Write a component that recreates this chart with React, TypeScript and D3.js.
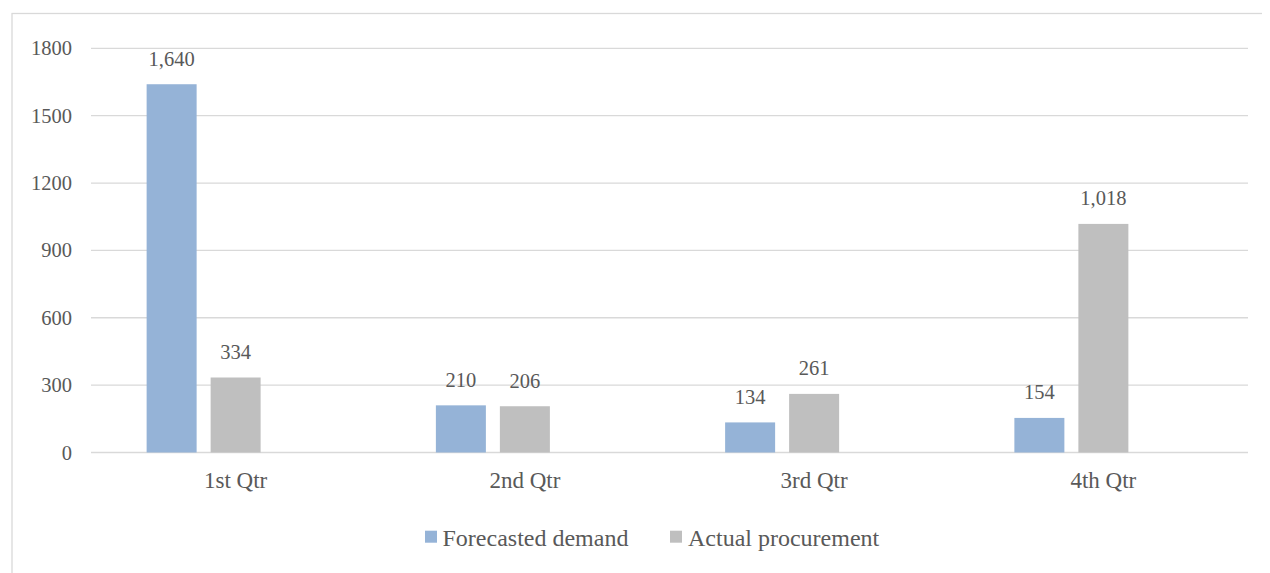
import React from "react";
import * as d3 from "d3";

const categories = ["1st Qtr", "2nd Qtr", "3rd Qtr", "4th Qtr"];
const seriesNames = ["Forecasted demand", "Actual procurement"];
const forecastedDemand = [1640, 210, 134, 154];
const actualProcurement = [334, 206, 261, 1018];
const yTicks = [0, 300, 600, 900, 1200, 1500, 1800];
const seriesColors = ["#95B3D7", "#BFBFBF"];

const W = 1262;
const H = 565;
const FONT = '"Liberation Serif", "Times New Roman", Times, serif';
const TEXT = "#595959";
const GRID = "#D9D9D9";
const txt = (size: number) => ({ fontFamily: FONT, fontSize: size, fill: TEXT });

export default function App() {
  const plotLeft = 91;
  const plotRight = 1248;
  const y = d3.scaleLinear().domain([0, 1800]).range([452.5, 48.3]);
  const x0 = d3.scaleBand<string>().domain(categories).range([plotLeft, plotRight]).padding(0);
  const step = x0.bandwidth();
  const groupPad = (step - 178) / 2;
  const x1 = d3
    .scaleBand<number>()
    .domain([0, 1, 2])
    .range([groupPad, step - groupPad])
    .paddingInner(14 / 64)
    .paddingOuter(0);
  const values = [forecastedDemand, actualProcurement];
  const fmt = d3.format(",");

  return (
    <svg width={W} height={H} style={{ display: "block", fontFamily: FONT }}>
      <g transform="translate(-8,-8)">
        <rect x={12} y={13.5} width={1400} height={700} fill="#fff" stroke={GRID} strokeWidth={1.3} />
        {yTicks.map((t) => (
          <g key={t}>
            <line x1={plotLeft} x2={plotRight} y1={y(t)} y2={y(t)} stroke={GRID} strokeWidth={1.3} />
            <text x={72} y={y(t) + 7} textAnchor="end" style={txt(20.5)}>
              {t}
            </text>
          </g>
        ))}
        {categories.map((c, i) => (
          <g key={c} transform={`translate(${x0(c)},0)`}>
            {values.map((vals, s) => (
              <g key={s}>
                <rect
                  x={x1(s)}
                  y={y(vals[i])}
                  width={x1.bandwidth()}
                  height={y(0) - y(vals[i])}
                  fill={seriesColors[s]}
                />
                <text
                  x={(x1(s) as number) + x1.bandwidth() / 2}
                  y={y(vals[i]) - 18.5}
                  textAnchor="middle"
                  style={txt(20.5)}
                >
                  {fmt(vals[i])}
                </text>
              </g>
            ))}
            <text x={step / 2} y={488} textAnchor="middle" style={txt(23)}>
              {c}
            </text>
          </g>
        ))}
        <g>
          <rect x={425} y={530.7} width={12} height={12} fill={seriesColors[0]} />
          <text x={442.5} y={545.5} style={txt(24)}>
            {seriesNames[0]}
          </text>
          <rect x={670} y={530.7} width={12} height={12} fill={seriesColors[1]} />
          <text x={688} y={545.5} style={txt(24)}>
            {seriesNames[1]}
          </text>
        </g>
      </g>
    </svg>
  );
}
